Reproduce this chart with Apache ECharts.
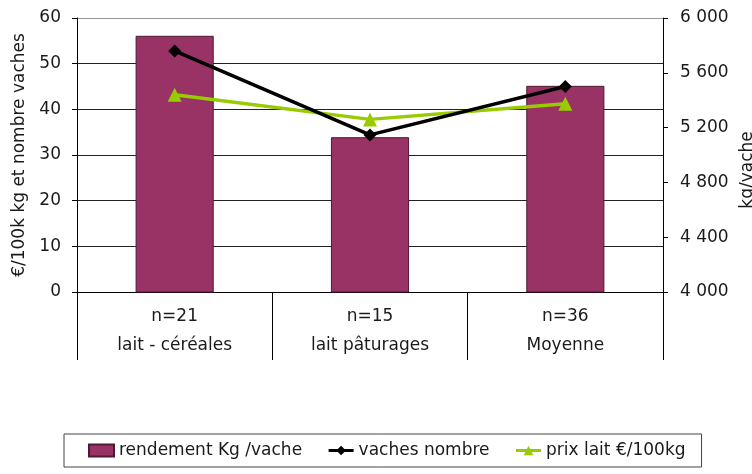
<!DOCTYPE html>
<html>
<head>
<meta charset="utf-8">
<script src="https://cdn.jsdelivr.net/npm/echarts@6/dist/echarts.min.js"></script>
<style>html,body{margin:0;padding:0;background:#fff}#c{width:752px;height:474px}</style>
</head>
<body>
<div id="c"></div>
<script>
const categories = ['n=21\nlait - céréales', 'n=15\nlait pâturages', 'n=36\nMoyenne'];
const rendement = [5870, 5130, 5505];      // kg/vache (right axis)
const vaches = [52.8, 34.4, 45.0];          // nombre (left axis)
const prix = [43.2, 37.8, 41.2];            // €/100kg (left axis)
const leftTicks = {min: 0, max: 60, interval: 10};
const rightTicks = {min: 4000, max: 6000, interval: 400};

const FONT = 'DejaVu Sans';
const TXT = '#1a1a1a';
const chart = echarts.init(document.getElementById('c'), null, {renderer: 'canvas'});
const fmtSpace = v => String(v).replace(/\B(?=(\d{3})+(?!\d))/g, ' ');

chart.setOption({
  animation: false,
  textStyle: {fontFamily: FONT, color: TXT},
  grid: {left: 77, right: 89, top: 18, bottom: 182, containLabel: false, outerBoundsMode: 'none'},
  legend: {
    left: 64, top: 434,
    padding: [8, 16, 8, 24],
    borderColor: '#444', borderWidth: 1,
    itemWidth: 25, itemHeight: 12, itemGap: 25,
    textStyle: {fontFamily: FONT, fontSize: 17, color: TXT},
    lineStyle: {width: 3},
    data: [
      {name: 'rendement Kg /vache', icon: 'rect'},
      {name: 'vaches nombre'},
      {name: 'prix lait €/100kg'}
    ]
  },
  xAxis: {
    type: 'category',
    data: categories,
    boundaryGap: true,
    axisLine: {show: true, lineStyle: {color: '#000', width: 1}},
    axisTick: {show: true, interval: 0, length: 68, lineStyle: {color: '#000', width: 1}},
    axisLabel: {interval: 0, fontFamily: FONT, fontSize: 17, color: TXT, lineHeight: 29, margin: 10}
  },
  yAxis: [
    {
      type: 'value', position: 'left',
      min: leftTicks.min, max: leftTicks.max, interval: leftTicks.interval,
      name: '€/100k kg et nombre vaches', nameLocation: 'middle', nameGap: 41, nameRotate: 90,
      nameTextStyle: {fontFamily: FONT, fontSize: 17, color: TXT},
      axisLine: {show: true, lineStyle: {color: '#000'}},
      axisTick: {show: true, length: 5, lineStyle: {color: '#000'}},
      axisLabel: {fontFamily: FONT, fontSize: 17, color: TXT, margin: 16},
      splitLine: {show: true, lineStyle: {color: ['#222', '#222', '#222', '#222', '#222', '#222', '#999'], width: 1}}
    },
    {
      type: 'value', position: 'right',
      min: rightTicks.min, max: rightTicks.max, interval: rightTicks.interval,
      name: 'kg/vache', nameLocation: 'middle', nameGap: 70, nameRotate: 90,
      nameTextStyle: {fontFamily: FONT, fontSize: 17, color: TXT, padding: [0, 30, 0, 0]},
      axisLine: {show: true, lineStyle: {color: '#000'}},
      axisTick: {show: true, length: 5, lineStyle: {color: '#000'}},
      axisLabel: {fontFamily: FONT, fontSize: 17, color: TXT, margin: 17, formatter: fmtSpace},
      splitLine: {show: false}
    }
  ],
  series: [
    {
      name: 'rendement Kg /vache', type: 'bar', yAxisIndex: 1,
      data: rendement, barWidth: '40%',
      itemStyle: {color: '#993366', borderColor: '#4d1a33', borderWidth: 1},
      z: 2
    },
    {
      name: 'vaches nombre', type: 'line', yAxisIndex: 0,
      data: vaches, symbol: 'diamond', symbolSize: 13,
      lineStyle: {color: '#000', width: 3.5},
      itemStyle: {color: '#000'},
      z: 4
    },
    {
      name: 'prix lait €/100kg', type: 'line', yAxisIndex: 0,
      data: prix, symbol: 'triangle', symbolSize: 14,
      lineStyle: {color: '#99cc00', width: 3.5},
      itemStyle: {color: '#99cc00'},
      z: 3
    }
  ]
});
</script>
</body>
</html>
